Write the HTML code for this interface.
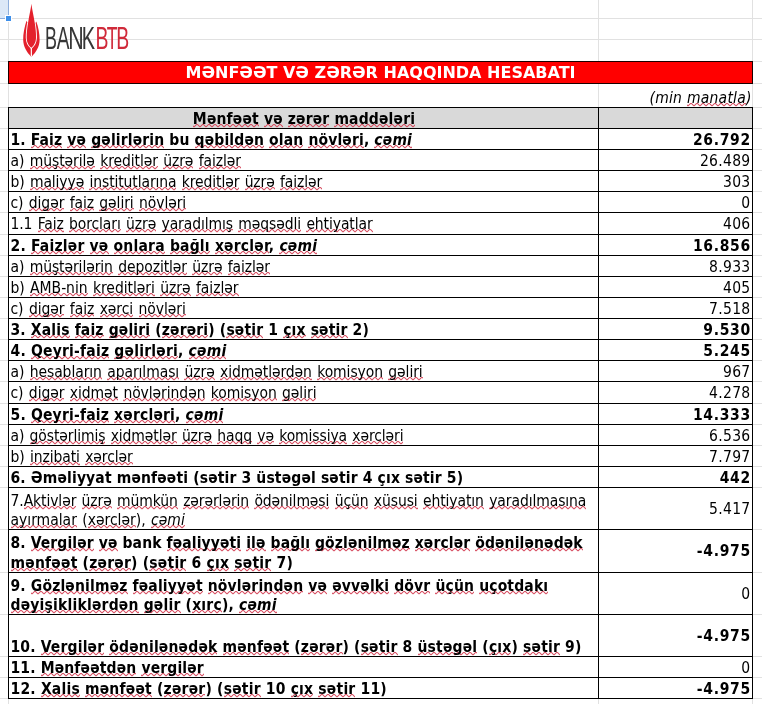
<!DOCTYPE html>
<html lang="az"><head><meta charset="utf-8"><title>BankBTB</title><style>
*{margin:0;padding:0;box-sizing:border-box}
html,body{width:762px;height:704px;overflow:hidden;background:#fff}
body{position:relative;font-family:"DejaVu Sans Condensed","DejaVu Sans",sans-serif;font-stretch:condensed;font-size:15.5px;color:#000}
.hg{position:absolute;left:0;width:762px;height:1px;background:#e1e1e1}
.vg{position:absolute;top:0;height:704px;width:1px;background:#e1e1e1}
#sel{position:absolute;left:0;top:0;width:9px;height:19px;background:#dce8f7;border-right:1px solid #8eaedb;border-bottom:1px solid #8eaedb}
#selh{position:absolute;left:6px;top:16px;width:5px;height:5px;background:#3d8fea;box-shadow:0 0 0 1px #fff}
#title{position:absolute;left:8px;top:61px;width:745px;height:23px;background:#ff0000;border:1px solid #1a0000;color:#fff;font-weight:bold;text-align:center;font-family:"DejaVu Sans",sans-serif;font-stretch:normal;font-size:16px;line-height:21px;white-space:nowrap}
#hdr{position:absolute;left:8px;top:107px;width:745px;height:22px;background:#d9d9d9}
.hc{position:absolute;left:9px;width:590px;text-align:center;line-height:20px;white-space:nowrap}
.hb{position:absolute;left:8px;width:745px;height:1px;background:#000}
.vb{position:absolute;top:107px;height:592px;width:1px;background:#000}
.lt{position:absolute;left:10.5px;line-height:20px;white-space:nowrap;word-spacing:1px}
.lt.b{word-spacing:0}
.rv{position:absolute;right:12px;line-height:20px;white-space:nowrap;text-align:right}
.b{font-weight:bold;font-size:15.5px}
.s{background-image:linear-gradient(90deg,transparent 1px,rgba(215,75,95,.25) 1px,rgba(215,75,95,.25) 2px,rgba(212,70,90,.9) 2px,rgba(212,70,90,.9) 4px,rgba(215,75,95,.25) 4px,rgba(215,75,95,.25) 5px,transparent 5px),linear-gradient(90deg,rgba(215,75,95,.25) 1px,rgba(212,70,90,.9) 1px,rgba(212,70,90,.9) 2px,rgba(215,75,95,.25) 2px,rgba(215,75,95,.25) 4px,rgba(212,70,90,.9) 4px,rgba(212,70,90,.9) 5px,rgba(215,75,95,.25) 5px),linear-gradient(90deg,rgba(212,70,90,.9) 1px,rgba(215,75,95,.25) 1px,rgba(215,75,95,.25) 2px,transparent 2px,transparent 4px,rgba(215,75,95,.25) 4px,rgba(215,75,95,.25) 5px,rgba(212,70,90,.9) 5px),linear-gradient(90deg,rgba(215,75,95,.15) 1px,transparent 1px,transparent 5px,rgba(215,75,95,.15) 5px);background-size:6px 1px;background-repeat:repeat-x;background-position:1px calc(100% - 3px),1px calc(100% - 2px),1px calc(100% - 1px),1px 100%}
#logo{position:absolute;left:0;top:0}
</style></head>
<body>
<div class="hg" style="top:18px"></div>
<div class="hg" style="top:39px"></div>
<div class="hg" style="top:61px"></div>
<div class="hg" style="top:83px"></div>
<div class="hg" style="top:107px"></div>
<div class="hg" style="top:128px"></div>
<div class="hg" style="top:149px"></div>
<div class="hg" style="top:170px"></div>
<div class="hg" style="top:191px"></div>
<div class="hg" style="top:212px"></div>
<div class="hg" style="top:234px"></div>
<div class="hg" style="top:255px"></div>
<div class="hg" style="top:276px"></div>
<div class="hg" style="top:297px"></div>
<div class="hg" style="top:318px"></div>
<div class="hg" style="top:339px"></div>
<div class="hg" style="top:360px"></div>
<div class="hg" style="top:381px"></div>
<div class="hg" style="top:403px"></div>
<div class="hg" style="top:424px"></div>
<div class="hg" style="top:445px"></div>
<div class="hg" style="top:466px"></div>
<div class="hg" style="top:487px"></div>
<div class="hg" style="top:529px"></div>
<div class="hg" style="top:572px"></div>
<div class="hg" style="top:614px"></div>
<div class="hg" style="top:656px"></div>
<div class="hg" style="top:677px"></div>
<div class="hg" style="top:698px"></div>
<div class="vg" style="left:8px"></div>
<div class="vg" style="left:598px"></div>
<div class="vg" style="left:752px"></div>
<div id="sel"></div><div id="selh"></div>
<div id="title"><span id="tt" style="letter-spacing:0.000px">MƏNFƏƏT VƏ ZƏRƏR HAQQINDA HESABATI</span></div>
<div class="rv" id="mm" style="top:87.63px;letter-spacing:0.250px;right:10.25px"><i>(min <span class="s">manatla</span>)</i></div>
<div id="hdr"></div>
<div class="hc b" id="hd" style="top:108.63px;letter-spacing:0.160px"><span class="s">Mənfəət</span> <span class="s">və</span> <span class="s">zərər</span> <span class="s">maddələri</span></div>
<div class="hb" style="top:107px"></div>
<div class="hb" style="top:128px"></div>
<div class="hb" style="top:149px"></div>
<div class="hb" style="top:170px"></div>
<div class="hb" style="top:191px"></div>
<div class="hb" style="top:212px"></div>
<div class="hb" style="top:234px"></div>
<div class="hb" style="top:255px"></div>
<div class="hb" style="top:276px"></div>
<div class="hb" style="top:297px"></div>
<div class="hb" style="top:318px"></div>
<div class="hb" style="top:339px"></div>
<div class="hb" style="top:360px"></div>
<div class="hb" style="top:381px"></div>
<div class="hb" style="top:403px"></div>
<div class="hb" style="top:424px"></div>
<div class="hb" style="top:445px"></div>
<div class="hb" style="top:466px"></div>
<div class="hb" style="top:487px"></div>
<div class="hb" style="top:529px"></div>
<div class="hb" style="top:572px"></div>
<div class="hb" style="top:614px"></div>
<div class="hb" style="top:656px"></div>
<div class="hb" style="top:677px"></div>
<div class="hb" style="top:698px"></div>
<div class="vb" style="left:8px"></div>
<div class="vb" style="left:598px"></div>
<div class="vb" style="left:752px"></div>
<div class="lt b" id="l128_0" style="top:129.63px;letter-spacing:0.147px">1. <span class="s">Faiz</span> <span class="s">və</span> <span class="s">gəlirlərin</span> bu <span class="s">qəbildən</span> <span class="s">olan</span> <span class="s">növləri</span>, <i><span class="s">cəmi</span></i></div>
<div class="rv b" style="top:129.63px;letter-spacing:0.700px;right:11.10px">26.792</div>
<div class="lt " id="l149_0" style="top:150.63px;letter-spacing:-0.079px">a) <span class="s">müştərilə</span> <span class="s">kreditlər</span> <span class="s">üzrə</span> <span class="s">faizlər</span></div>
<div class="rv " style="top:150.63px;letter-spacing:0.300px;right:11.50px">26.489</div>
<div class="lt " id="l170_0" style="top:171.63px;letter-spacing:-0.106px">b) <span class="s">maliyyə</span> <span class="s">institutlarına</span> <span class="s">kreditlər</span> <span class="s">üzrə</span> <span class="s">faizlər</span></div>
<div class="rv " style="top:171.63px;letter-spacing:0.300px;right:11.50px">303</div>
<div class="lt " id="l191_0" style="top:192.63px;letter-spacing:-0.081px">c) <span class="s">digər</span> <span class="s">faiz</span> <span class="s">gəliri</span> <span class="s">növləri</span></div>
<div class="rv " style="top:192.63px;letter-spacing:0.300px;right:11.50px">0</div>
<div class="lt " id="l212_0" style="top:213.63px;letter-spacing:-0.096px">1.1 <span class="s">Faiz</span> <span class="s">borcları</span> <span class="s">üzrə</span> <span class="s">yaradılmış</span> <span class="s">məqsədli</span> <span class="s">ehtiyatlar</span></div>
<div class="rv " style="top:213.63px;letter-spacing:0.300px;right:11.50px">406</div>
<div class="lt b" id="l234_0" style="top:235.63px;letter-spacing:0.208px">2. <span class="s">Faizlər</span> <span class="s">və</span> <span class="s">onlara</span> <span class="s">bağlı</span> <span class="s">xərclər</span>, <i><span class="s">cəmi</span></i></div>
<div class="rv b" style="top:235.63px;letter-spacing:0.700px;right:11.10px">16.856</div>
<div class="lt " id="l255_0" style="top:256.63px;letter-spacing:-0.089px">a) <span class="s">müştərilərin</span> <span class="s">depozitlər</span> <span class="s">üzrə</span> <span class="s">faizlər</span></div>
<div class="rv " style="top:256.63px;letter-spacing:0.300px;right:11.50px">8.933</div>
<div class="lt " id="l276_0" style="top:277.63px;letter-spacing:-0.039px">b) <span class="s">AMB-nin</span> <span class="s">kreditləri</span> <span class="s">üzrə</span> <span class="s">faizlər</span></div>
<div class="rv " style="top:277.63px;letter-spacing:0.300px;right:11.50px">405</div>
<div class="lt " id="l297_0" style="top:298.63px;letter-spacing:-0.058px">c) <span class="s">digər</span> <span class="s">faiz</span> <span class="s">xərci</span> <span class="s">növləri</span></div>
<div class="rv " style="top:298.63px;letter-spacing:0.300px;right:11.50px">7.518</div>
<div class="lt b" id="l318_0" style="top:319.63px;letter-spacing:0.156px">3. <span class="s">Xalis</span> <span class="s">faiz</span> <span class="s">gəliri</span> (<span class="s">zərəri</span>) (<span class="s">sətir</span> 1 <span class="s">çıx</span> <span class="s">sətir</span> 2)</div>
<div class="rv b" style="top:319.63px;letter-spacing:0.700px;right:11.10px">9.530</div>
<div class="lt b" id="l339_0" style="top:340.63px;letter-spacing:0.207px">4. <span class="s">Qeyri-faiz</span> <span class="s">gəlirləri</span>, <i><span class="s">cəmi</span></i></div>
<div class="rv b" style="top:340.63px;letter-spacing:0.700px;right:11.10px">5.245</div>
<div class="lt " id="l360_0" style="top:361.63px;letter-spacing:-0.079px">a) <span class="s">hesabların</span> <span class="s">aparılması</span> <span class="s">üzrə</span> <span class="s">xidmətlərdən</span> <span class="s">komisyon</span> <span class="s">gəliri</span></div>
<div class="rv " style="top:361.63px;letter-spacing:0.300px;right:11.50px">967</div>
<div class="lt " id="l381_0" style="top:382.63px;letter-spacing:-0.067px">c) <span class="s">digər</span> <span class="s">xidmət</span> <span class="s">növlərindən</span> <span class="s">komisyon</span> <span class="s">gəliri</span></div>
<div class="rv " style="top:382.63px;letter-spacing:0.300px;right:11.50px">4.278</div>
<div class="lt b" id="l403_0" style="top:404.63px;letter-spacing:0.189px">5. <span class="s">Qeyri-faiz</span> <span class="s">xərcləri</span>, <i><span class="s">cəmi</span></i></div>
<div class="rv b" style="top:404.63px;letter-spacing:0.700px;right:11.10px">14.333</div>
<div class="lt " id="l424_0" style="top:425.63px;letter-spacing:-0.105px">a) <span class="s">göstərlimiş</span> <span class="s">xidmətlər</span> <span class="s">üzrə</span> <span class="s">haqq</span> <span class="s">və</span> <span class="s">komissiya</span> <span class="s">xərcləri</span></div>
<div class="rv " style="top:425.63px;letter-spacing:0.300px;right:11.50px">6.536</div>
<div class="lt " id="l445_0" style="top:446.63px;letter-spacing:-0.094px">b) <span class="s">inzibati</span> <span class="s">xərclər</span></div>
<div class="rv " style="top:446.63px;letter-spacing:0.300px;right:11.50px">7.797</div>
<div class="lt b" id="l466_0" style="top:467.63px;letter-spacing:0.143px">6. Əməliyyat mənfəəti (sətir 3 üstəgəl sətir 4 çıx sətir 5)</div>
<div class="rv b" style="top:467.63px;letter-spacing:0.700px;right:11.10px">442</div>
<div class="lt " id="l487_0" style="top:490.63px;letter-spacing:-0.094px">7.<span class="s">Aktivlər</span> <span class="s">üzrə</span> <span class="s">mümkün</span> <span class="s">zərərlərin</span> <span class="s">ödənilməsi</span> <span class="s">üçün</span> <span class="s">xüsusi</span> <span class="s">ehtiyatın</span> <span class="s">yaradılmasına</span></div>
<div class="lt " id="l487_1" style="top:509.63px;letter-spacing:-0.004px"><span class="s">ayırmalar</span> (<span class="s">xərclər</span>), <i><span class="s">cəmi</span></i></div>
<div class="rv " style="top:498.63px;letter-spacing:0.300px;right:11.50px">5.417</div>
<div class="lt b" id="l529_0" style="top:532.63px;letter-spacing:0.115px">8. <span class="s">Vergilər</span> <span class="s">və</span> bank <span class="s">fəaliyyəti</span> <span class="s">ilə</span> <span class="s">bağlı</span> <span class="s">gözlənilməz</span> <span class="s">xərclər</span> <span class="s">ödənilənədək</span></div>
<div class="lt b" id="l529_1" style="top:552.63px;letter-spacing:0.211px"><span class="s">mənfəət</span> (<span class="s">zərər</span>) (<span class="s">sətir</span> 6 <span class="s">çıx</span> <span class="s">sətir</span> 7)</div>
<div class="rv b" style="top:540.63px;letter-spacing:0.700px;right:11.10px">-4.975</div>
<div class="lt b" id="l572_0" style="top:575.63px;letter-spacing:0.157px">9. <span class="s">Gözlənilməz</span> <span class="s">fəaliyyət</span> <span class="s">növlərindən</span> <span class="s">və</span> <span class="s">əvvəlki</span> <span class="s">dövr</span> <span class="s">üçün</span> <span class="s">uçotdakı</span></div>
<div class="lt b" id="l572_1" style="top:594.63px;letter-spacing:0.197px"><span class="s">dəyişikliklərdən</span> <span class="s">gəlir</span> (<span class="s">xırc</span>), <i><span class="s">cəmi</span></i></div>
<div class="rv " style="top:583.63px;letter-spacing:0.300px;right:11.50px">0</div>
<div class="lt b" id="l614_0" style="top:636.63px;letter-spacing:0.172px">10. <span class="s">Vergilər</span> <span class="s">ödənilənədək</span> <span class="s">mənfəət</span> (<span class="s">zərər</span>) (<span class="s">sətir</span> 8 <span class="s">üstəgəl</span> (<span class="s">çıx</span>) <span class="s">sətir</span> 9)</div>
<div class="rv b" style="top:625.63px;letter-spacing:0.700px;right:11.10px">-4.975</div>
<div class="lt b" id="l656_0" style="top:657.63px;letter-spacing:0.145px">11. <span class="s">Mənfəətdən</span> <span class="s">vergilər</span></div>
<div class="rv " style="top:657.63px;letter-spacing:0.300px;right:11.50px">0</div>
<div class="lt b" id="l677_0" style="top:678.63px;letter-spacing:0.202px">12. <span class="s">Xalis</span> <span class="s">mənfəət</span> (<span class="s">zərər</span>) (<span class="s">sətir</span> 10 <span class="s">çıx</span> <span class="s">sətir</span> 11)</div>
<div class="rv b" style="top:678.63px;letter-spacing:0.700px;right:11.10px">-4.975</div>
<svg id="logo" width="140" height="62" viewBox="0 0 140 62">
<defs><clipPath id="oc"><path d="M26.5 20.8 C24.5 27 23 34 23.2 40 C23.4 47 27 52.5 31 56.4 L31.8 56.4 C35.8 52.5 39.5 47 39.6 40 C39.7 34 38.3 27 36.3 21.6 L31.4 30 Z"/></clipPath></defs>
<path d="M26.5 20.8 C24.5 27 23 34 23.2 40 C23.4 47 27 52.5 31 56.4 L31.8 56.4 C35.8 52.5 39.5 47 39.6 40 C39.7 34 38.3 27 36.3 21.6 L31.4 30 Z" fill="#e4202c"/>
<g clip-path="url(#oc)">
<path d="M31.4 3.8 C31.9 9 33.6 15 34.6 22 C35.6 28 36.2 33 36 38 C35.8 43 33.5 46 31.3 47.8 C29.1 46 26.8 43 26.7 38 C26.6 33 27.2 28 28.2 22 C29.2 15 30.9 9 31.4 3.8 Z" fill="none" stroke="#fff" stroke-width="1.8"/>
<path d="M31.3 47 L31.4 57" stroke="#fff" stroke-width="1.2"/></g>
<path d="M31.4 3.8 C31.9 9 33.6 15 34.6 22 C35.6 28 36.2 33 36 38 C35.8 43 33.5 46 31.3 47.8 C29.1 46 26.8 43 26.7 38 C26.6 33 27.2 28 28.2 22 C29.2 15 30.9 9 31.4 3.8 Z" fill="#e4202c"/>
<text x="44.89" y="48.6" font-family="Liberation Sans" font-size="31" fill="#363636" textLength="11.97" lengthAdjust="spacingAndGlyphs">B</text>
<text x="56.73" y="48.6" font-family="Liberation Sans" font-size="31" fill="#363636" textLength="12.75" lengthAdjust="spacingAndGlyphs">A</text>
<text x="68.37" y="48.6" font-family="Liberation Sans" font-size="31" fill="#363636" textLength="15.47" lengthAdjust="spacingAndGlyphs">N</text>
<text x="81.74" y="48.6" font-family="Liberation Sans" font-size="31" fill="#363636" textLength="13.3" lengthAdjust="spacingAndGlyphs">K</text>
<text x="95.48" y="48.6" font-family="Liberation Sans" font-size="31" fill="#d02a3a" textLength="12.96" lengthAdjust="spacingAndGlyphs">B</text>
<text x="106.81" y="48.6" font-family="Liberation Sans" font-size="31" fill="#d02a3a" textLength="10.77" lengthAdjust="spacingAndGlyphs">T</text>
<text x="116.18" y="48.6" font-family="Liberation Sans" font-size="31" fill="#d02a3a" textLength="12.96" lengthAdjust="spacingAndGlyphs">B</text>
</svg>
</body></html>
